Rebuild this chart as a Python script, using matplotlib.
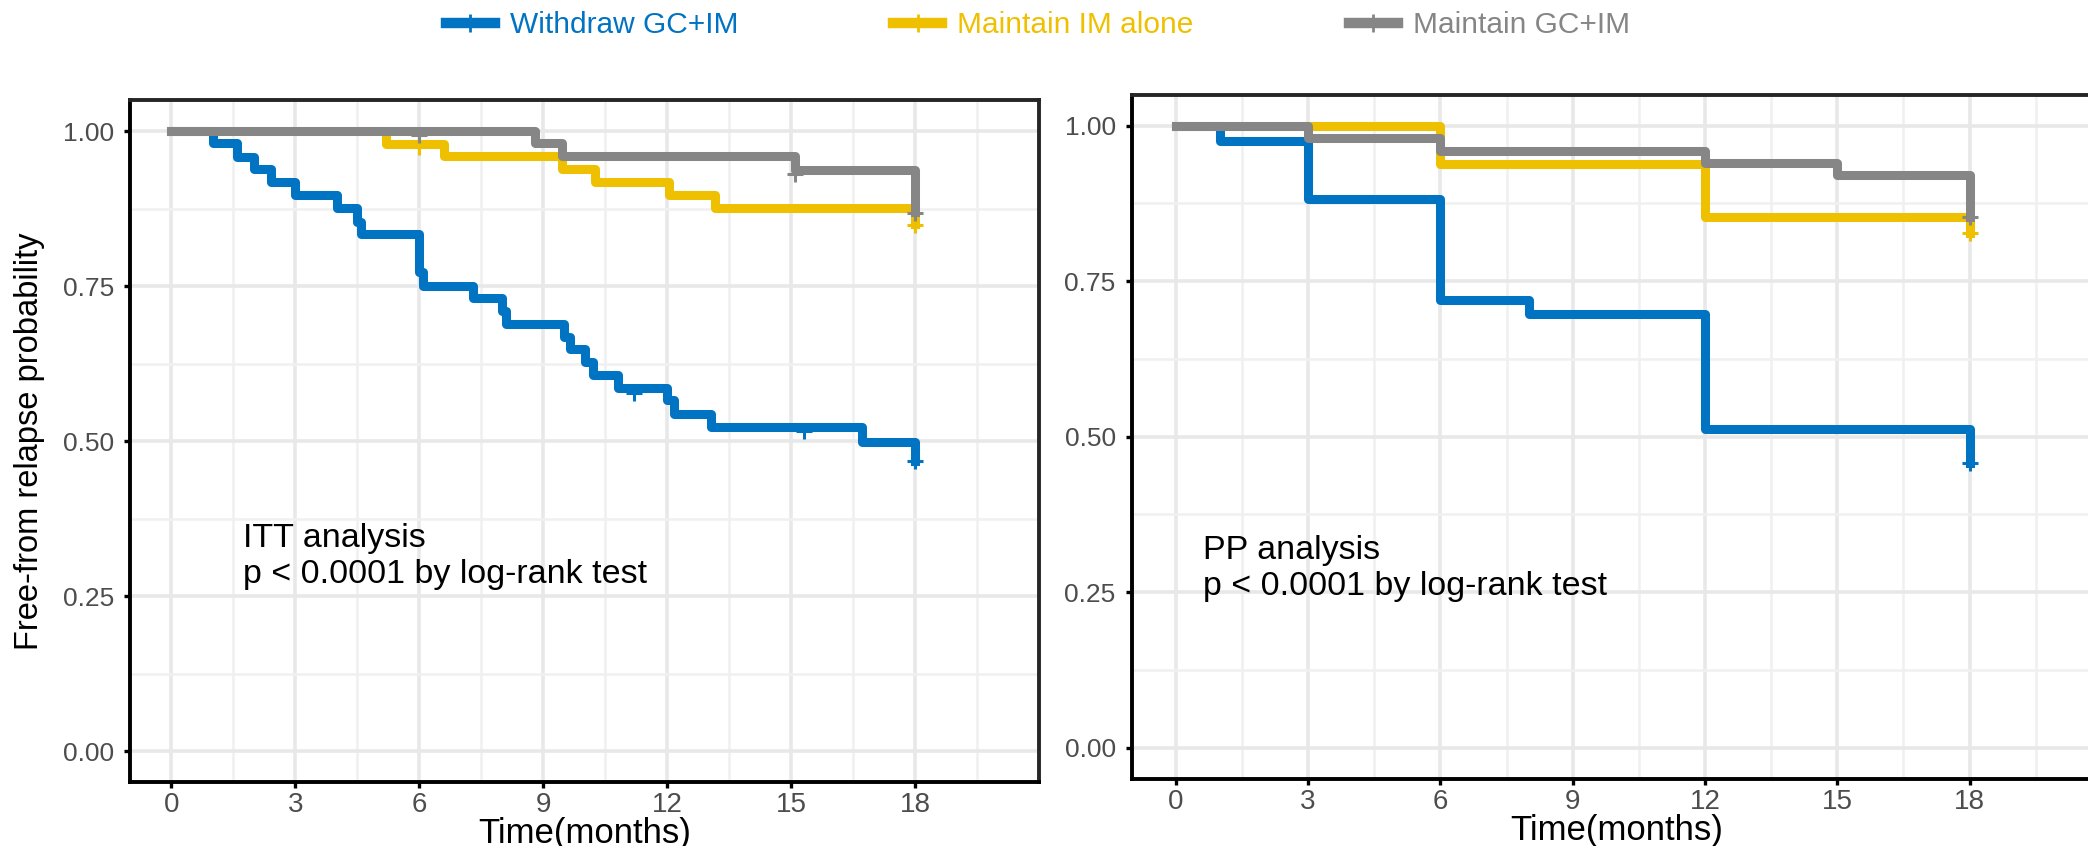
import numpy as np
import matplotlib.pyplot as plt
from matplotlib.lines import Line2D

plt.rcParams['font.family'] = ['Liberation Sans', 'DejaVu Sans']

groups = ['Withdraw GC+IM', 'Maintain IM alone', 'Maintain GC+IM']
colors = ['#0073C2', '#EFC000', '#868686']

# ITT analysis (left panel), step curves
itt_withdraw_t = [0, 1.0, 1.6, 2.0, 2.4, 3.0, 4.0, 4.5, 4.6, 6.0, 6.1, 7.3, 8.0, 8.1,
                  9.5, 9.65, 10.0, 10.2, 10.8, 12.0, 12.15, 13.05, 16.7, 18.0]
itt_withdraw_v = [1.0, 0.981, 0.958, 0.938, 0.917, 0.897, 0.876, 0.854, 0.834, 0.772, 0.75,
                  0.731, 0.71, 0.689, 0.668, 0.648, 0.627, 0.606, 0.585, 0.566, 0.544,
                  0.523, 0.498, 0.467]
itt_im_t = [0, 5.2, 6.6, 9.45, 10.25, 12.05, 13.15, 18.0]
itt_im_v = [1.0, 0.979, 0.959, 0.939, 0.918, 0.897, 0.876, 0.85]
itt_gcim_t = [0, 8.8, 9.45, 15.1, 18.0]
itt_gcim_v = [1.0, 0.98, 0.959, 0.937, 0.869]

# censor marks (ITT)
itt_withdraw_ct = [11.2, 15.3, 18.0]
itt_withdraw_cv = [0.578, 0.516, 0.467]
itt_im_ct = [6.0, 18.0]
itt_im_cv = [0.975, 0.849]
itt_gcim_ct = [6.0, 15.1, 18.0]
itt_gcim_cv = [0.993, 0.931, 0.868]

# PP analysis (right panel)
pp_withdraw_t = [0, 1, 3, 6, 8, 12, 18]
pp_withdraw_v = [1.0, 0.976, 0.883, 0.72, 0.698, 0.512, 0.458]
pp_im_t = [0, 6, 12, 18]
pp_im_v = [1.0, 0.939, 0.854, 0.828]
pp_gcim_t = [0, 3, 6, 12, 15, 18]
pp_gcim_v = [1.0, 0.98, 0.96, 0.94, 0.92, 0.853]

pp_withdraw_ct = [18.0]
pp_withdraw_cv = [0.458]
pp_im_ct = [18.0]
pp_im_cv = [0.828]
pp_gcim_ct = [18.0]
pp_gcim_cv = [0.853]

x_ticks = [0, 3, 6, 9, 12, 15, 18]
y_ticks = [0.0, 0.25, 0.5, 0.75, 1.0]
y_ticklabels = ['0.00', '0.25', '0.50', '0.75', '1.00']

fig = plt.figure(figsize=(20.88, 8.46), dpi=100)
ax1 = fig.add_axes([0.06226, 0.07565, 0.4355, 0.8061])
ax2 = fig.add_axes([0.5420, 0.07943, 0.46466, 0.8087])


def style(ax):
    ax.set_xlim(-1, 21)
    ax.set_ylim(-0.05, 1.05)
    ax.set_xticks(x_ticks)
    ax.set_xticks(np.arange(1.5, 21, 3), minor=True)
    ax.set_yticks(y_ticks)
    ax.set_yticklabels(y_ticklabels)
    ax.set_yticks([0.125, 0.375, 0.625, 0.875], minor=True)
    ax.grid(which='major', color='#E8E8E8', lw=2.6)
    ax.grid(which='minor', color='#F0F0F0', lw=1.8)
    ax.set_axisbelow(True)
    ax.tick_params(which='major', length=4.5, width=2.4, color='black',
                   labelcolor='#4D4D4D')
    ax.tick_params(which='minor', length=0)
    ax.tick_params(axis='x', labelsize=20, pad=3)
    ax.tick_params(axis='y', labelsize=19, pad=7)
    for s in ax.spines.values():
        s.set_linewidth(2.8)
        s.set_color('#262626')
    ax.spines['left'].set_color('black')
    ax.spines['bottom'].set_color('black')
    ax.set_xlabel('Time(months)', fontsize=25, labelpad=-1)


def curves(ax, data):
    for (t, v, ct, cv), c in zip(data, colors):
        ax.step(t, v, where='post', color=c, lw=6.5)
        ax.plot(ct, cv, ls='none', marker='+', ms=12, mew=2.2, color=c)


curves(ax1, [(itt_withdraw_t, itt_withdraw_v, itt_withdraw_ct, itt_withdraw_cv),
             (itt_im_t, itt_im_v, itt_im_ct, itt_im_cv),
             (itt_gcim_t, itt_gcim_v, itt_gcim_ct, itt_gcim_cv)])
curves(ax2, [(pp_withdraw_t, pp_withdraw_v, pp_withdraw_ct, pp_withdraw_cv),
             (pp_im_t, pp_im_v, pp_im_ct, pp_im_cv),
             (pp_gcim_t, pp_gcim_v, pp_gcim_ct, pp_gcim_cv)])

style(ax1)
style(ax2)

ax1.set_ylabel('Free-from relapse probability', fontsize=23.5)
ax1.yaxis.label.set_va('center')
ax1.yaxis.set_label_coords(-0.11, 0.5)

ax1.text(1.74, 0.271, 'ITT analysis\np < 0.0001 by log-rank test',
         fontsize=24.5, va='baseline', ha='left', color='black')
ax2.text(0.62, 0.2455, 'PP analysis\np < 0.0001 by log-rank test',
         fontsize=24.5, va='baseline', ha='left', color='black')

handles = [Line2D([], [], color=c, lw=7.5, marker='+', ms=13, mew=2) for c in colors]
leg = fig.legend(handles, groups, loc='center', bbox_to_anchor=(0.497, 0.97), ncol=3,
                 frameon=False, fontsize=21.5, handlelength=1.64, handletextpad=0.5,
                 columnspacing=5.2, numpoints=1)
for txt, c in zip(leg.get_texts(), colors):
    txt.set_color(c)

fig.savefig('out.png', dpi=100)
